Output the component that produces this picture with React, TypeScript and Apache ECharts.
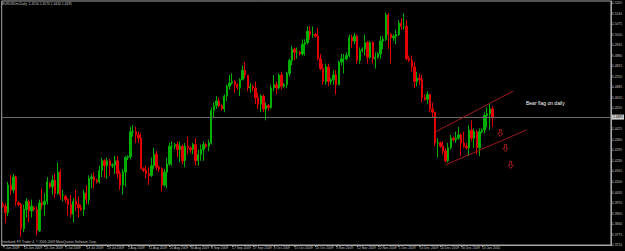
import React, { useEffect, useRef } from "react";
import * as echarts from "echarts";

type Bar = [string, number, number, number, number]; // date, open, high, low, close

const jun2009: Bar[] = [
  ["7 Jun 2009", 1.396, 1.3975, 1.394, 1.395],
  ["8 Jun 2009", 1.395, 1.397, 1.3845, 1.391],
  ["9 Jun 2009", 1.391, 1.41, 1.389, 1.408],
  ["10 Jun 2009", 1.408, 1.414, 1.402, 1.405],
  ["11 Jun 2009", 1.405, 1.415, 1.403, 1.413],
  ["12 Jun 2009", 1.413, 1.414, 1.395, 1.398],
  ["14 Jun 2009", 1.397, 1.398, 1.395, 1.396],
  ["15 Jun 2009", 1.396, 1.397, 1.376, 1.381],
  ["16 Jun 2009", 1.381, 1.396, 1.379, 1.393],
  ["17 Jun 2009", 1.393, 1.4, 1.388, 1.398],
  ["18 Jun 2009", 1.398, 1.399, 1.385, 1.392],
  ["19 Jun 2009", 1.392, 1.399, 1.388, 1.395],
  ["21 Jun 2009", 1.394, 1.395, 1.392, 1.393],
  ["22 Jun 2009", 1.393, 1.395, 1.377, 1.38],
  ["23 Jun 2009", 1.38, 1.399, 1.379, 1.397],
  ["24 Jun 2009", 1.397, 1.406, 1.393, 1.396],
  ["25 Jun 2009", 1.396, 1.403, 1.389, 1.398],
  ["26 Jun 2009", 1.398, 1.413, 1.396, 1.41],
  ["28 Jun 2009", 1.409, 1.41, 1.406, 1.407],
  ["29 Jun 2009", 1.407, 1.414, 1.402, 1.411],
  ["30 Jun 2009", 1.411, 1.415, 1.4, 1.403],
];

const jul2009: Bar[] = [
  ["1 Jul 2009", 1.403, 1.422, 1.402, 1.416],
  ["2 Jul 2009", 1.416, 1.418, 1.399, 1.402],
  ["3 Jul 2009", 1.402, 1.405, 1.398, 1.402],
  ["5 Jul 2009", 1.401, 1.402, 1.397, 1.399],
  ["6 Jul 2009", 1.399, 1.4, 1.389, 1.396],
  ["7 Jul 2009", 1.396, 1.402, 1.388, 1.39],
  ["8 Jul 2009", 1.39, 1.4, 1.385, 1.398],
  ["9 Jul 2009", 1.398, 1.405, 1.392, 1.396],
  ["10 Jul 2009", 1.396, 1.401, 1.388, 1.394],
  ["12 Jul 2009", 1.394, 1.396, 1.392, 1.393],
  ["13 Jul 2009", 1.393, 1.405, 1.389, 1.403],
  ["14 Jul 2009", 1.403, 1.408, 1.396, 1.399],
  ["15 Jul 2009", 1.399, 1.414, 1.396, 1.412],
  ["16 Jul 2009", 1.412, 1.415, 1.406, 1.413],
  ["17 Jul 2009", 1.413, 1.416, 1.406, 1.411],
  ["19 Jul 2009", 1.411, 1.412, 1.409, 1.41],
  ["20 Jul 2009", 1.41, 1.42, 1.409, 1.417],
  ["21 Jul 2009", 1.417, 1.425, 1.413, 1.423],
  ["22 Jul 2009", 1.423, 1.424, 1.413, 1.42],
  ["23 Jul 2009", 1.42, 1.425, 1.412, 1.423],
  ["24 Jul 2009", 1.423, 1.424, 1.414, 1.42],
  ["26 Jul 2009", 1.42, 1.4215, 1.4185, 1.4205],
  ["27 Jul 2009", 1.4205, 1.426, 1.415, 1.423],
  ["28 Jul 2009", 1.423, 1.426, 1.412, 1.415],
  ["29 Jul 2009", 1.415, 1.417, 1.405, 1.408],
  ["30 Jul 2009", 1.408, 1.418, 1.402, 1.416],
  ["31 Jul 2009", 1.416, 1.426, 1.407, 1.425],
];

const aug2009: Bar[] = [
  ["2 Aug 2009", 1.425, 1.4265, 1.4235, 1.4255],
  ["3 Aug 2009", 1.4255, 1.444, 1.424, 1.441],
  ["4 Aug 2009", 1.441, 1.445, 1.438, 1.441],
  ["5 Aug 2009", 1.441, 1.444, 1.434, 1.439],
  ["6 Aug 2009", 1.439, 1.441, 1.434, 1.437],
  ["7 Aug 2009", 1.437, 1.44, 1.418, 1.418],
  ["9 Aug 2009", 1.418, 1.419, 1.416, 1.417],
  ["10 Aug 2009", 1.417, 1.42, 1.412, 1.415],
  ["11 Aug 2009", 1.415, 1.419, 1.408, 1.414],
  ["12 Aug 2009", 1.414, 1.425, 1.413, 1.42],
  ["13 Aug 2009", 1.42, 1.431, 1.418, 1.427],
  ["14 Aug 2009", 1.427, 1.429, 1.417, 1.419],
  ["16 Aug 2009", 1.419, 1.42, 1.416, 1.418],
  ["17 Aug 2009", 1.418, 1.419, 1.404, 1.408],
  ["18 Aug 2009", 1.408, 1.418, 1.407, 1.416],
  ["19 Aug 2009", 1.416, 1.425, 1.406, 1.421],
  ["20 Aug 2009", 1.421, 1.434, 1.42, 1.432],
  ["21 Aug 2009", 1.432, 1.435, 1.42, 1.432],
  ["23 Aug 2009", 1.432, 1.434, 1.43, 1.433],
  ["24 Aug 2009", 1.433, 1.435, 1.425, 1.43],
  ["25 Aug 2009", 1.43, 1.435, 1.422, 1.432],
  ["26 Aug 2009", 1.432, 1.433, 1.421, 1.423],
  ["27 Aug 2009", 1.423, 1.434, 1.419, 1.432],
  ["28 Aug 2009", 1.432, 1.438, 1.427, 1.431],
  ["30 Aug 2009", 1.431, 1.432, 1.428, 1.43],
  ["31 Aug 2009", 1.43, 1.434, 1.427, 1.433],
];

const sep2009: Bar[] = [
  ["1 Sep 2009", 1.433, 1.437, 1.42, 1.423],
  ["2 Sep 2009", 1.423, 1.43, 1.42, 1.427],
  ["3 Sep 2009", 1.427, 1.433, 1.423, 1.43],
  ["4 Sep 2009", 1.43, 1.435, 1.423, 1.433],
  ["6 Sep 2009", 1.433, 1.434, 1.431, 1.432],
  ["7 Sep 2009", 1.432, 1.436, 1.429, 1.434],
  ["8 Sep 2009", 1.434, 1.456, 1.433, 1.454],
  ["9 Sep 2009", 1.454, 1.459, 1.45, 1.457],
  ["10 Sep 2009", 1.457, 1.463, 1.455, 1.46],
  ["11 Sep 2009", 1.46, 1.462, 1.456, 1.457],
  ["13 Sep 2009", 1.457, 1.458, 1.454, 1.455],
  ["14 Sep 2009", 1.455, 1.464, 1.453, 1.463],
  ["15 Sep 2009", 1.463, 1.47, 1.46, 1.469],
  ["16 Sep 2009", 1.469, 1.476, 1.467, 1.471],
  ["17 Sep 2009", 1.471, 1.477, 1.47, 1.472],
  ["18 Sep 2009", 1.472, 1.473, 1.465, 1.47],
  ["20 Sep 2009", 1.47, 1.471, 1.467, 1.468],
  ["21 Sep 2009", 1.468, 1.474, 1.463, 1.473],
  ["22 Sep 2009", 1.473, 1.482, 1.473, 1.479],
  ["23 Sep 2009", 1.479, 1.484, 1.474, 1.476],
  ["24 Sep 2009", 1.476, 1.476, 1.466, 1.468],
  ["25 Sep 2009", 1.468, 1.471, 1.465, 1.469],
  ["27 Sep 2009", 1.469, 1.47, 1.466, 1.468],
  ["28 Sep 2009", 1.468, 1.472, 1.458, 1.462],
  ["29 Sep 2009", 1.462, 1.465, 1.455, 1.458],
  ["30 Sep 2009", 1.458, 1.464, 1.453, 1.463],
];

const oct2009: Bar[] = [
  ["1 Oct 2009", 1.463, 1.464, 1.453, 1.455],
  ["2 Oct 2009", 1.455, 1.459, 1.448, 1.457],
  ["4 Oct 2009", 1.457, 1.458, 1.454, 1.456],
  ["5 Oct 2009", 1.456, 1.47, 1.455, 1.468],
  ["6 Oct 2009", 1.468, 1.476, 1.466, 1.47],
  ["7 Oct 2009", 1.47, 1.472, 1.464, 1.468],
  ["8 Oct 2009", 1.468, 1.477, 1.467, 1.476],
  ["9 Oct 2009", 1.476, 1.478, 1.467, 1.469],
  ["11 Oct 2009", 1.469, 1.471, 1.468, 1.47],
  ["12 Oct 2009", 1.47, 1.478, 1.468, 1.477],
  ["13 Oct 2009", 1.477, 1.486, 1.475, 1.485],
  ["14 Oct 2009", 1.485, 1.494, 1.482, 1.492],
  ["15 Oct 2009", 1.492, 1.493, 1.485, 1.49],
  ["16 Oct 2009", 1.49, 1.493, 1.486, 1.49],
  ["18 Oct 2009", 1.49, 1.491, 1.488, 1.489],
  ["19 Oct 2009", 1.489, 1.498, 1.488, 1.495],
  ["20 Oct 2009", 1.495, 1.498, 1.488, 1.496],
  ["21 Oct 2009", 1.496, 1.506, 1.495, 1.503],
  ["22 Oct 2009", 1.503, 1.506, 1.498, 1.501],
  ["23 Oct 2009", 1.501, 1.506, 1.499, 1.501],
  ["25 Oct 2009", 1.501, 1.502, 1.499, 1.5],
  ["26 Oct 2009", 1.5, 1.505, 1.485, 1.486],
  ["27 Oct 2009", 1.486, 1.489, 1.479, 1.48],
  ["28 Oct 2009", 1.48, 1.483, 1.47, 1.472],
  ["29 Oct 2009", 1.472, 1.483, 1.47, 1.481],
  ["30 Oct 2009", 1.481, 1.483, 1.469, 1.472],
];

const nov2009: Bar[] = [
  ["1 Nov 2009", 1.472, 1.474, 1.47, 1.473],
  ["2 Nov 2009", 1.473, 1.479, 1.47, 1.476],
  ["3 Nov 2009", 1.476, 1.479, 1.464, 1.47],
  ["4 Nov 2009", 1.47, 1.485, 1.47, 1.484],
  ["5 Nov 2009", 1.484, 1.489, 1.482, 1.486],
  ["6 Nov 2009", 1.486, 1.489, 1.477, 1.486],
  ["8 Nov 2009", 1.486, 1.49, 1.485, 1.488],
  ["9 Nov 2009", 1.488, 1.501, 1.487, 1.499],
  ["10 Nov 2009", 1.499, 1.501, 1.493, 1.497],
  ["11 Nov 2009", 1.497, 1.502, 1.495, 1.5],
  ["12 Nov 2009", 1.5, 1.501, 1.483, 1.485],
  ["13 Nov 2009", 1.485, 1.493, 1.483, 1.491],
  ["15 Nov 2009", 1.491, 1.493, 1.49, 1.492],
  ["16 Nov 2009", 1.492, 1.501, 1.488, 1.496],
  ["17 Nov 2009", 1.496, 1.497, 1.483, 1.487],
  ["18 Nov 2009", 1.487, 1.497, 1.486, 1.496],
  ["19 Nov 2009", 1.496, 1.497, 1.483, 1.486],
  ["20 Nov 2009", 1.486, 1.49, 1.48, 1.487],
  ["22 Nov 2009", 1.487, 1.49, 1.486, 1.489],
  ["23 Nov 2009", 1.489, 1.5, 1.486, 1.497],
  ["24 Nov 2009", 1.497, 1.5, 1.492, 1.498],
  ["25 Nov 2009", 1.498, 1.5145, 1.497, 1.513],
  ["26 Nov 2009", 1.513, 1.514, 1.492, 1.501],
  ["27 Nov 2009", 1.501, 1.502, 1.483, 1.499],
  ["29 Nov 2009", 1.499, 1.501, 1.497, 1.5],
  ["30 Nov 2009", 1.5, 1.504, 1.495, 1.501],
];

const dec2009: Bar[] = [
  ["1 Dec 2009", 1.501, 1.51, 1.5, 1.508],
  ["2 Dec 2009", 1.508, 1.511, 1.504, 1.506],
  ["3 Dec 2009", 1.506, 1.514, 1.504, 1.506],
  ["4 Dec 2009", 1.506, 1.51, 1.485, 1.486],
  ["6 Dec 2009", 1.486, 1.488, 1.484, 1.485],
  ["7 Dec 2009", 1.485, 1.488, 1.478, 1.481],
  ["8 Dec 2009", 1.481, 1.484, 1.468, 1.472],
  ["9 Dec 2009", 1.472, 1.478, 1.469, 1.474],
  ["10 Dec 2009", 1.474, 1.477, 1.47, 1.473],
  ["11 Dec 2009", 1.473, 1.476, 1.459, 1.462],
  ["13 Dec 2009", 1.462, 1.464, 1.46, 1.461],
  ["14 Dec 2009", 1.461, 1.466, 1.458, 1.464],
  ["15 Dec 2009", 1.464, 1.464, 1.453, 1.455],
  ["16 Dec 2009", 1.455, 1.459, 1.45, 1.453],
  ["17 Dec 2009", 1.453, 1.453, 1.432, 1.434],
  ["18 Dec 2009", 1.434, 1.437, 1.425, 1.434],
  ["20 Dec 2009", 1.434, 1.435, 1.431, 1.432],
  ["21 Dec 2009", 1.432, 1.435, 1.427, 1.429],
  ["22 Dec 2009", 1.429, 1.431, 1.422, 1.423],
  ["23 Dec 2009", 1.423, 1.434, 1.422, 1.431],
  ["24 Dec 2009", 1.431, 1.439, 1.43, 1.437],
  ["27 Dec 2009", 1.437, 1.438, 1.435, 1.436],
  ["28 Dec 2009", 1.436, 1.441, 1.434, 1.437],
  ["29 Dec 2009", 1.437, 1.444, 1.436, 1.439],
  ["30 Dec 2009", 1.439, 1.44, 1.426, 1.434],
  ["31 Dec 2009", 1.434, 1.441, 1.431, 1.432],
];

const jan2010: Bar[] = [
  ["3 Jan 2010", 1.432, 1.434, 1.43, 1.431],
  ["4 Jan 2010", 1.431, 1.445, 1.426, 1.442],
  ["5 Jan 2010", 1.442, 1.448, 1.435, 1.437],
  ["6 Jan 2010", 1.437, 1.443, 1.431, 1.441],
  ["7 Jan 2010", 1.441, 1.442, 1.427, 1.431],
  ["8 Jan 2010", 1.431, 1.443, 1.426, 1.441],
  ["10 Jan 2010", 1.441, 1.443, 1.44, 1.442],
  ["11 Jan 2010", 1.442, 1.453, 1.44, 1.451],
  ["12 Jan 2010", 1.451, 1.456, 1.444, 1.452],
  ["13 Jan 2010", 1.452, 1.458, 1.442, 1.455],
  ["14 Jan 2010", 1.455, 1.457, 1.444, 1.4495],
];

const bars: Bar[] = [...jun2009, ...jul2009, ...aug2009, ...sep2009, ...oct2009, ...nov2009, ...dec2009, ...jan2010];
const dates = bars.map((b) => b[0]);
const futureSlots = 45; // empty space right of the last bar (chart shift)
const categories = [...dates, ...Array(futureSlots).fill("")];

const yTicks = [
  1.371, 1.3775, 1.384, 1.3905, 1.397, 1.4035, 1.41, 1.4165, 1.423, 1.4295, 1.436, 1.4425,
  1.449, 1.4555, 1.462, 1.4685, 1.475, 1.4815, 1.488, 1.4945, 1.501, 1.5075, 1.514, 1.5205,
];

// hand-drawn annotations: [bar index, price]
const channelUpper: [number, number][] = [[166, 1.4408], [196, 1.4661]];
const channelLower: [number, number][] = [[170, 1.4205], [201, 1.442]];
const arrowPoints: [number, number][] = [[191, 1.4402], [193, 1.4309], [195, 1.4204]];

const symbolName = "EURUSDm,Daily";
const noteText = "Bear flag on daily";
const copyright = "Interbank FX Trader 4, \u00a9 2001-2009 MetaQuotes Software Corp.";

export default function App() {
  const ref = useRef<HTMLDivElement>(null);
  useEffect(() => {
    if (!ref.current) return;
    const chart = echarts.init(ref.current, null, { renderer: "svg" });
    const last = bars[bars.length - 1];
    const lastClose = last[4];
    // the current-price box on the axis hides the tick label it covers
    const labelTicks = yTicks.filter((v) => Math.abs(v - lastClose) > 0.0015);
    const fg = "#c4c4c4";
    const font = "Liberation Sans";
    const redLine = "#9c1c1c";
    chart.setOption({
      animation: false,
      backgroundColor: "#000",
      grid: {
        left: 1,
        right: 13,
        top: 1,
        bottom: 6,
        show: true,
        borderColor: "#a8a8a8",
        borderWidth: 1,
        backgroundColor: "#000",
      },
      xAxis: {
        type: "category",
        data: categories,
        boundaryGap: true,
        axisLine: { show: true, lineStyle: { color: "#a8a8a8", width: 1 } },
        axisTick: {
          show: true,
          length: 2,
          alignWithLabel: true,
          interval: (i: number, v: string) => i % 8 === 0 && v !== "",
          lineStyle: { color: "#a8a8a8" },
        },
        axisLabel: {
          show: true,
          interval: (i: number, v: string) => i % 8 === 0 && v !== "",
          color: fg,
          fontSize: 3.3,
          fontFamily: font,
          align: "left",
          margin: 1,
        },
        splitLine: { show: false },
      },
      yAxis: {
        type: "value",
        position: "right",
        min: 1.371,
        max: 1.5217,
        scale: true,
        splitLine: { show: false },
        axisLine: { show: true, lineStyle: { color: "#a8a8a8", width: 1 } },
        axisTick: { show: true, length: 1.5, customValues: yTicks, lineStyle: { color: "#a8a8a8" } },
        axisLabel: {
          show: true,
          customValues: labelTicks,
          formatter: (v: number) => v.toFixed(4),
          color: fg,
          fontSize: 3.3,
          fontFamily: font,
          margin: 1,
        },
      },
      series: [
        {
          type: "candlestick",
          data: bars.map((b) => [b[1], b[4], b[3], b[2]]),
          barWidth: "70%",
          itemStyle: {
            color: "#00b000",
            color0: "#e00000",
            borderColor: "#00b000",
            borderColor0: "#e00000",
            borderWidth: 1,
          },
          markLine: {
            silent: true,
            symbol: ["none", "none"],
            animation: false,
            lineStyle: { color: "#6a6a6a", width: 1, type: "solid" },
            data: [
              {
                yAxis: lastClose,
                lineStyle: { color: "#6a6a6a", width: 1, type: "solid" },
                label: {
                  show: true,
                  position: "end",
                  distance: 1,
                  formatter: lastClose.toFixed(4),
                  color: "#000",
                  backgroundColor: "#d0d0d0",
                  fontSize: 3.3,
                  fontFamily: font,
                  padding: [1, 1, 1, 1],
                },
              },
              [
                { coord: channelUpper[0], lineStyle: { color: redLine, width: 1, type: "solid" }, label: { show: false } },
                { coord: channelUpper[1] },
              ],
              [
                { coord: channelLower[0], lineStyle: { color: redLine, width: 1, type: "solid" }, label: { show: false } },
                { coord: channelLower[1] },
              ],
            ],
          },
          markPoint: {
            silent: true,
            animation: false,
            symbol: "path://M3,0L7,0L7,6L10,6L5,11L0,6L3,6Z",
            symbolSize: [5, 7],
            itemStyle: { color: "rgba(0,0,0,0)", borderColor: "#c02020", borderWidth: 0.8 },
            label: { show: false },
            data: arrowPoints.map((p) => ({ coord: p })),
          },
        },
      ],
      graphic: [
        {
          type: "text",
          left: 2,
          top: 2,
          silent: true,
          style: {
            text: `${symbolName}  ${last[1].toFixed(4)} ${last[2].toFixed(4)} ${last[3].toFixed(4)} ${last[4].toFixed(4)}`,
            fill: fg,
            fontSize: 3.3,
            fontFamily: font,
          },
        },
        {
          type: "text",
          left: 2,
          top: 240,
          silent: true,
          style: { text: copyright, fill: fg, fontSize: 3.3, fontFamily: font },
        },
        {
          type: "text",
          left: 526,
          top: 100,
          silent: true,
          style: { text: noteText, fill: "#ffffff", fontSize: 5, fontFamily: font },
        },
      ],
    });
    return () => chart.dispose();
  }, []);
  return (
    <div
      ref={ref}
      style={{ position: "fixed", left: 0, top: 0, width: 625, height: 251, background: "#000" }}
    />
  );
}
